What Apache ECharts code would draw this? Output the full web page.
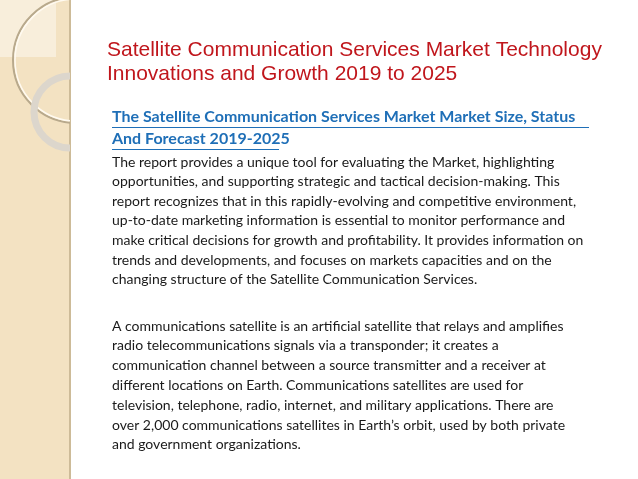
<!DOCTYPE html>
<html>
<head>
<meta charset="utf-8"/>
<script src="https://cdn.jsdelivr.net/npm/echarts@6/dist/echarts.min.js"></script>
<style>html,body{margin:0;padding:0;background:#fff}#main{width:638px;height:479px}</style>
</head>
<body>
<div id="main"></div>
<script>
var titleLines = ['Satellite Communication Services Market Technology', 'Innovations and Growth 2019 to 2025'];
var subtitleLines = ['The Satellite Communication Services Market Market Size, Status', 'And Forecast 2019-2025'];
var para1 = [
    'The report provides a unique tool for evaluating the Market, highlighting',
    'opportunities, and supporting strategic and tactical decision-making. This',
    'report recognizes that in this rapidly-evolving and competitive environment,',
    'up-to-date marketing information is essential to monitor performance and',
    'make critical decisions for growth and profitability. It provides information on',
    'trends and developments, and focuses on markets capacities and on the',
    'changing structure of the Satellite Communication Services.'
];
var para2 = [
    'A communications satellite is an artificial satellite that relays and amplifies',
    'radio telecommunications signals via a transponder; it creates a',
    'communication channel between a source transmitter and a receiver at',
    'different locations on Earth. Communications satellites are used for',
    'television, telephone, radio, internet, and military applications. There are',
    'over 2,000 communications satellites in Earth\u2019s orbit, used by both private',
    'and government organizations.'
];

var chart = echarts.init(document.getElementById('main'));
var els = [
    {type: 'rect', shape: {x: 0, y: 0, width: 70, height: 479}, style: {fill: '#f3e2c2'}},
    {type: 'rect', shape: {x: 0, y: 0, width: 56, height: 57}, style: {fill: '#f8eedb'}},
    {type: 'rect', shape: {x: 69, y: 0, width: 2, height: 479}, style: {fill: '#cdbb98'}},
    {type: 'group', clipPath: {type: 'rect', shape: {x: 0, y: 0, width: 70, height: 479}}, children: [
        {type: 'circle', shape: {cx: 76, cy: 60, r: 63}, style: {fill: 'none', stroke: '#b8a98c', lineWidth: 2}},
        {type: 'circle', shape: {cx: 76, cy: 60, r: 61}, style: {fill: 'none', stroke: '#fffaf0', lineWidth: 1.5}},
        {type: 'circle', shape: {cx: 70, cy: 112, r: 36}, style: {fill: 'none', stroke: '#dcd6cc', lineWidth: 7}}
    ]}
];
titleLines.forEach(function (t, i) {
    els.push({type: 'text', x: 107, y: 50 + i * 24, style: {text: t, fill: '#c0161c', font: '21px "Liberation Sans", Arial', textVerticalAlign: 'middle'}});
});
subtitleLines.forEach(function (t, i) {
    els.push({type: 'text', x: 112, y: 117 + i * 22, style: {text: t, fill: '#1f6fb7', font: 'bold 16px Lato', textVerticalAlign: 'middle'}});
});
els.push({type: 'rect', shape: {x: 112, y: 127, width: 477, height: 1}, style: {fill: '#1f6fb7'}});
els.push({type: 'rect', shape: {x: 112, y: 149, width: 167, height: 1}, style: {fill: '#1f6fb7'}});
para1.forEach(function (t, i) {
    els.push({type: 'text', x: 112, y: 162 + i * 19.6, style: {text: t, fill: '#1a1a1a', font: '14px Lato', textVerticalAlign: 'middle'}});
});
para2.forEach(function (t, i) {
    els.push({type: 'text', x: 112, y: 326 + i * 19.8, style: {text: t, fill: '#1a1a1a', font: '14px Lato', textVerticalAlign: 'middle'}});
});
chart.setOption({graphic: {elements: els}});
window.onresize = function () { chart.resize(); };
</script>
</body>
</html>
